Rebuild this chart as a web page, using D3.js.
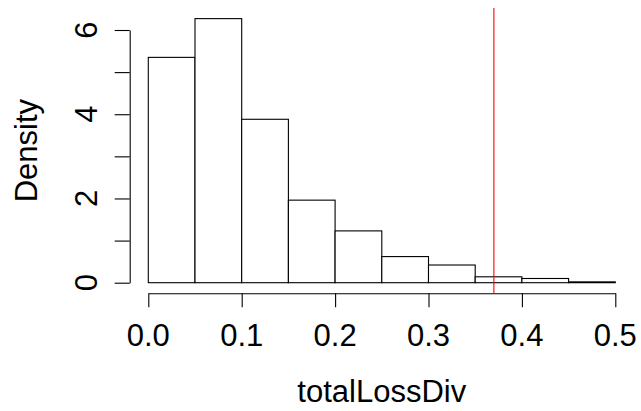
<!DOCTYPE html>
<html>
<head>
<meta charset="utf-8">
<script src="https://cdn.jsdelivr.net/npm/d3@7"></script>
<style>
html,body{margin:0;padding:0;background:#fff;}
svg{display:block;}
text{font-family:"Liberation Sans",Arial,sans-serif;fill:#000;}
</style>
</head>
<body>
<script>
const binEdges = [0,0.05,0.10,0.15,0.20,0.25,0.30,0.35,0.40,0.45,0.50];
const densities = [5.35,6.27,3.88,1.96,1.23,0.62,0.42,0.14,0.10,0.02];
const xTicks = [0,0.1,0.2,0.3,0.4,0.5];
const xTickLabels = ["0.0","0.1","0.2","0.3","0.4","0.5"];
const yTicks = [0,1,2,3,4,5,6];
const yTickLabels = [0,2,4,6];
const refLine = 0.37;
const xTitle = "totalLossDiv";
const yTitle = "Density";

const W = 641, H = 411;
const svg = d3.select("body").append("svg").attr("width", W).attr("height", H);

const x = d3.scaleLinear().domain([0,0.5]).range([148.3,615.3]);
const y = d3.scaleLinear().domain([0,6]).range([282.7,30]);
const plotBottom = y(-0.04*6.27), plotTop = y(6.27*1.04);
const fs = 31;

// bars
const bins = densities.map((d,i)=>({x0:binEdges[i], x1:binEdges[i+1], d}));
svg.append("g").selectAll("rect").data(bins).join("rect")
  .attr("x", b=>x(b.x0)).attr("width", b=>x(b.x1)-x(b.x0))
  .attr("y", b=>y(b.d)).attr("height", b=>y(0)-y(b.d))
  .attr("fill","#fff").attr("stroke","#000").attr("stroke-width",1.1);

// x axis
const gx = svg.append("g").attr("transform",`translate(0,${plotBottom})`)
  .call(d3.axisBottom(x).tickValues(xTicks).tickSize(14).tickSizeOuter(0).tickFormat(""));
gx.selectAll("path,line").attr("stroke","#000").attr("stroke-width",1.1);
svg.append("g").selectAll("text").data(xTicks).join("text")
  .attr("x", d=>x(d)).attr("y", 345.5).attr("text-anchor","middle")
  .attr("font-size", fs).text((d,i)=>xTickLabels[i]);

// y axis
const gy = svg.append("g").attr("transform","translate(129.7,0)")
  .call(d3.axisLeft(y).tickValues(yTicks).tickSize(15).tickSizeOuter(0).tickFormat(""));
gy.selectAll("path,line").attr("stroke","#000").attr("stroke-width",1.1);
svg.append("g").selectAll("text").data(yTickLabels).join("text")
  .attr("transform", d=>`translate(96.5,${y(d)}) rotate(-90)`)
  .attr("text-anchor","middle").attr("font-size", fs).text(d=>d);

// titles
svg.append("text").attr("x", (x(0)+x(0.5))/2).attr("y", 401.5)
  .attr("text-anchor","middle").attr("font-size", fs).text(xTitle);
svg.append("text").attr("transform", `translate(37.3,${(plotTop+plotBottom)/2}) rotate(-90)`)
  .attr("text-anchor","middle").attr("font-size", fs).text(yTitle);

// reference line
svg.append("line").attr("x1", x(refLine)).attr("x2", x(refLine))
  .attr("y1", plotTop).attr("y2", plotBottom)
  .attr("stroke","#ff0000").attr("stroke-width",1.1);
</script>
</body>
</html>
